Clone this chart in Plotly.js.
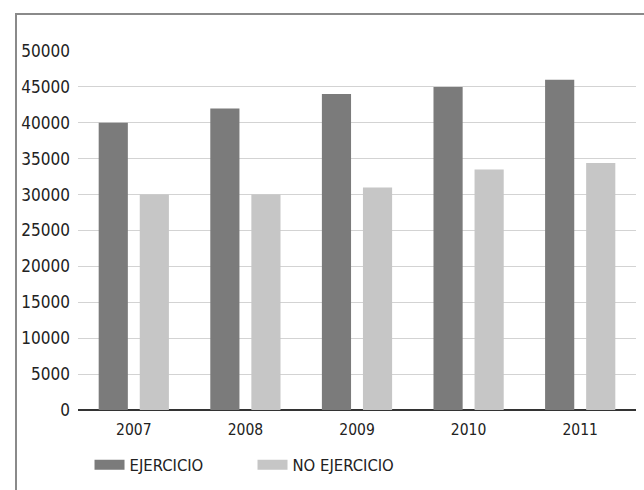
<!DOCTYPE html>
<html>
<head>
<meta charset="utf-8">
<script src="https://cdn.plot.ly/plotly-3.0.1.min.js"></script>
<style>
  html, body { margin: 0; padding: 0; background: #ffffff; }
  #frame { position: absolute; left: 15px; top: 13px; width: 640px; height: 490px;
           border-top: 2px solid #8a8a8a; border-left: 2px solid #8a8a8a; }
  #chart { position: absolute; left: 0; top: 0; width: 644px; height: 490px; }
</style>
</head>
<body>
<div id="frame"></div>
<div id="chart"></div>
<script>
const years = ['2007', '2008', '2009', '2010', '2011'];
const ejercicio = [40000, 42000, 44000, 45000, 46000];
const noEjercicio = [30000, 30000, 31000, 33500, 34400];
const seriesNames = ['EJERCICIO', 'NO EJERCICIO'];
const yTicks = [0, 5000, 10000, 15000, 20000, 25000, 30000, 35000, 40000, 45000, 50000];

const darkColor = '#7b7b7b';
const lightColor = '#c6c6c6';
const FONT = '"Liberation Sans Narrow", "DejaVu Sans Condensed", "Arial Narrow", sans-serif';

const data = [
  { type: 'bar', x: years, y: ejercicio, name: seriesNames[0], marker: { color: darkColor }, showlegend: false, hoverinfo: 'skip' },
  { type: 'bar', x: years, y: noEjercicio, name: seriesNames[1], marker: { color: lightColor }, showlegend: false, hoverinfo: 'skip' },
  { type: 'scatter', mode: 'lines', x: [null], y: [null], name: seriesNames[0], line: { color: darkColor, width: 11 }, showlegend: true },
  { type: 'scatter', mode: 'lines', x: [null], y: [null], name: seriesNames[1], line: { color: lightColor, width: 11 }, showlegend: true }
];

const layout = {
  width: 644, height: 490,
  paper_bgcolor: 'rgba(0,0,0,0)', plot_bgcolor: 'rgba(0,0,0,0)',
  margin: { l: 78, r: 8, t: 51, b: 80 },
  barmode: 'group', bargap: 0.264, bargroupgap: 0.29,
  font: { family: FONT, color: '#222222' },
  xaxis: {
    type: 'category', categoryorder: 'array', categoryarray: years,
    tickfont: { size: 15.5, family: FONT, color: '#222222' },
    ticks: '', showgrid: false, showline: false, zeroline: false,
    ticklabelstandoff: 8
  },
  yaxis: {
    range: [0, 50000], tickvals: yTicks, ticktext: yTicks.map(String),
    tickfont: { size: 17, family: FONT, color: '#222222' },
    ticks: '', showgrid: true, gridcolor: '#d3d3d3', gridwidth: 1,
    zeroline: true, zerolinecolor: '#333333', zerolinewidth: 1.5,
    showline: false, ticklabelstandoff: 7
  },
  showlegend: true,
  legend: {
    orientation: 'h', xref: 'container', yref: 'container',
    x: 0.139, y: 0.051, xanchor: 'left', yanchor: 'middle',
    font: { size: 16.5, family: FONT, color: '#222222' },
    entrywidth: 118, entrywidthmode: 'pixels',
    bgcolor: 'rgba(0,0,0,0)', traceorder: 'normal'
  }
};

Plotly.newPlot('chart', data, layout, { displayModeBar: false, staticPlot: true });
</script>
</body>
</html>
